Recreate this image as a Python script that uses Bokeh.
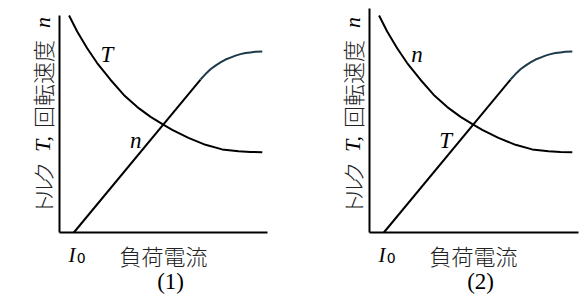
import numpy as np
from bokeh.plotting import figure
from bokeh.layouts import row
from bokeh.models import Label, FixedTicker, Range1d
from bokeh.embed import file_html
from bokeh.resources import INLINE

# ---- data (arbitrary units) ----
# decreasing characteristic
dec_x = [0.46, 0.85, 1.33, 1.81, 2.45, 3.09, 3.74, 4.38, 4.95, 5.42, 6.20, 7.02, 7.82, 8.61, 9.18, 9.75]
dec_y = [10.0, 9.26, 8.49, 7.81, 7.04, 6.34, 5.78, 5.33, 4.99, 4.73, 4.36, 4.04, 3.83, 3.74, 3.71, 3.70]
# increasing characteristic: straight part from I0, then saturating part
inc_lin_x = [0.69, 6.78]
inc_lin_y = [0.0, 7.05]
inc_sat_x = [6.78, 7.02, 7.26, 7.50, 7.74, 7.98, 8.22, 8.46, 8.70, 8.94, 9.18, 9.42, 9.75]
inc_sat_y = [7.05, 7.30, 7.52, 7.69, 7.84, 7.97, 8.06, 8.15, 8.22, 8.27, 8.30, 8.33, 8.34]

axis_x_end = [10.0, 10.05]
axis_y_end = [10.0, 10.32]
panel_captions = ["(1)", "(2)"]
upper_labels = ["T", "n"]   # label of the decreasing curve
lower_labels = ["n", "T"]   # label of the increasing curve
x_axis_label = "負荷電流"
y_label_parts = ["ト", "ル", "ク", "T,", "回転速度", "n"]

CJK = "Noto Sans CJK JP Light"
SERIF = "Liberation Serif"
KX, KY = 20.8, 21.7          # pixels per data unit
ORIGIN_X, ORIGIN_Y = 59, 232  # origin position inside each canvas (px from left / top)


def make_panel(i, width):
    x0 = -ORIGIN_X / KX
    x1 = (width - ORIGIN_X) / KX
    y0 = -(294 - ORIGIN_Y) / KY
    y1 = ORIGIN_Y / KY
    p = figure(width=width, height=294, output_backend="svg", toolbar_location=None,
               x_range=Range1d(x0, x1), y_range=Range1d(y0, y1),
               min_border_left=0, min_border_right=0,
               min_border_top=0, min_border_bottom=0)
    p.grid.visible = False
    p.outline_line_color = None
    p.background_fill_color = "white"
    p.border_fill_color = "white"
    for ax, end in ((p.xaxis[0], axis_x_end[i]), (p.yaxis[0], axis_y_end[i])):
        ax.ticker = FixedTicker(ticks=[])
        ax.fixed_location = 0
        ax.bounds = (0, end)
        ax.major_tick_line_color = None
        ax.minor_tick_line_color = None
        ax.major_tick_out = 0
        ax.major_tick_in = 0
        ax.minor_tick_out = 0
        ax.major_label_standoff = 0
        ax.major_label_text_font_size = "0px"
        ax.axis_line_width = 2
        ax.axis_line_color = "black"

    p.line(dec_x, dec_y, line_width=2, line_color="black")
    p.line(inc_lin_x, inc_lin_y, line_width=2, line_color="black")
    p.line(inc_sat_x, inc_sat_y, line_width=2, line_color="#1d3a4a")

    def lab(x, y, text, font, size, style="normal", angle=0.0, color="black"):
        p.add_layout(Label(x=x, y=y, text=text, text_font=font, text_font_size=size,
                           text_font_style=style, text_align="center",
                           text_baseline="middle", angle=angle, text_color=color))

    # curve labels
    lab(2.28, 8.22, upper_labels[i], SERIF, "23px", "italic")
    lab(3.66, 4.22, lower_labels[i], SERIF, "23px", "italic")
    # I0
    lab(0.60, -1.02, "I", SERIF, "21px", "italic")
    lab(1.04, -1.17, "0", "DejaVu Sans", "14px")
    # x label
    lab(5.0, -1.04, x_axis_label, CJK, "22px", color="#222222")
    # caption
    lab(5.34, -2.26, panel_captions[i], SERIF, "23px")
    # y label, rotated, reading bottom to top
    a = np.pi / 2
    lab(-0.86, 1.30, y_label_parts[0], CJK, "22px", angle=a, color="#222222")
    lab(-0.86, 2.00, y_label_parts[1], CJK, "22px", angle=a, color="#222222")
    lab(-0.86, 2.76, y_label_parts[2], CJK, "22px", angle=a, color="#222222")
    lab(-0.84, 4.08, y_label_parts[3], SERIF, "22px", "italic", angle=a)
    lab(-0.86, 6.84, y_label_parts[4], CJK, "22px", angle=a, color="#222222")
    lab(-0.80, 9.68, y_label_parts[5], SERIF, "22px", "italic", angle=a)
    return p


p1 = make_panel(0, 310)
p2 = make_panel(1, 272)
layout = row(p1, p2, spacing=0)

open("out.html", "w").write(file_html(layout, INLINE))
